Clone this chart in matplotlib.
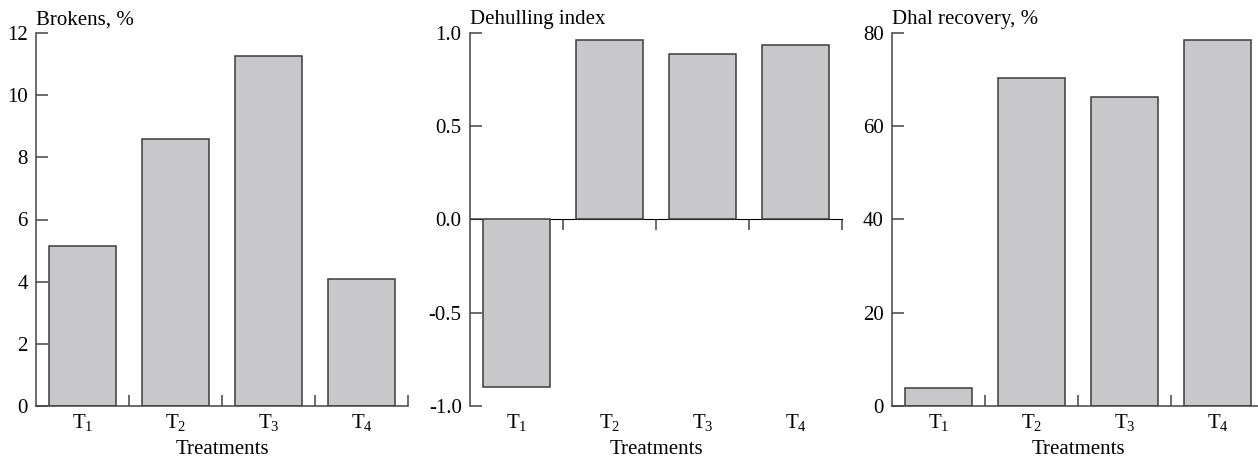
import matplotlib.pyplot as plt
import numpy as np

plt.rcParams['font.family'] = 'Liberation Serif'
plt.rcParams['mathtext.fontset'] = 'custom'
plt.rcParams['mathtext.rm'] = 'Liberation Serif'
plt.rcParams['mathtext.default'] = 'regular'
plt.rcParams['axes.unicode_minus'] = False
plt.rcParams['font.size'] = 15

# Data
treatments = ['T$_1$', 'T$_2$', 'T$_3$', 'T$_4$']
brokens = [5.15, 8.58, 11.26, 4.09]
dehulling = [-0.90, 0.96, 0.89, 0.935]
dhal_recovery = [3.8, 70.3, 66.3, 78.5]

titles = ['Brokens, %', 'Dehulling index', 'Dhal recovery, %']
series = [brokens, dehulling, dhal_recovery]
ylims = [(0, 12), (-1, 1), (0, 80)]
yticks = [np.arange(0, 13, 2), [-1.0, -0.5, 0.0, 0.5, 1.0], np.arange(0, 81, 20)]
yfmt = ['{:.0f}', '{:.1f}', '{:.0f}']
lefts = [36, 470, 892]

W, H = 1258, 458
fig = plt.figure(figsize=(W / 100, H / 100), dpi=100)

face = '#c8c8ca'
edge = '#3c3c3c'
spine_c = '#444444'
x = np.arange(len(treatments))
bounds = x[:-1] + 0.5

for i in range(3):
    ax = fig.add_axes([lefts[i] / W, 1 - 406 / H, 372 / W, 373 / H])
    ax.bar(x, series[i], width=0.72, color=face, edgecolor=edge, linewidth=1.1)
    ax.set_xlim(-0.5, 3.5)
    ax.set_ylim(*ylims[i])
    ax.set_yticks(yticks[i])
    ax.set_yticklabels([yfmt[i].format(v) for v in yticks[i]])
    ax.tick_params(axis='y', direction='in', length=8.5, width=1.1, color=spine_c, pad=6)
    for s in ['top', 'right']:
        ax.spines[s].set_visible(False)
    ax.spines['left'].set_color(spine_c)
    ax.spines['left'].set_linewidth(1.1)

    ax.set_xticks(x)
    ax.set_xticklabels(treatments)
    ax.tick_params(axis='x', which='major', length=0, pad=4)

    if i == 1:
        # x axis line sits at zero, labels stay at the bottom
        ax.spines['bottom'].set_visible(False)
        sec = ax.secondary_xaxis(0.5)
        sec.set_xticks([])
        sec.set_xticks(list(bounds) + [3.5], minor=True)
        sec.tick_params(which='minor', direction='in', length=8, width=1.1, color=spine_c)
        sec.spines['bottom'].set_color(spine_c)
        sec.spines['bottom'].set_linewidth(1.1)
    else:
        ax.set_xticks(list(bounds) + [3.5], minor=True)
        ax.tick_params(axis='x', which='minor', direction='in', length=8, width=1.1, color=spine_c)
        ax.spines['bottom'].set_color(spine_c)
        ax.spines['bottom'].set_linewidth(1.1)

    ax.set_xlabel('Treatments', labelpad=5)
    ax.text(0.0, 1.01, titles[i], transform=ax.transAxes, ha='left', va='bottom')

fig.savefig('out.png', dpi=100)
